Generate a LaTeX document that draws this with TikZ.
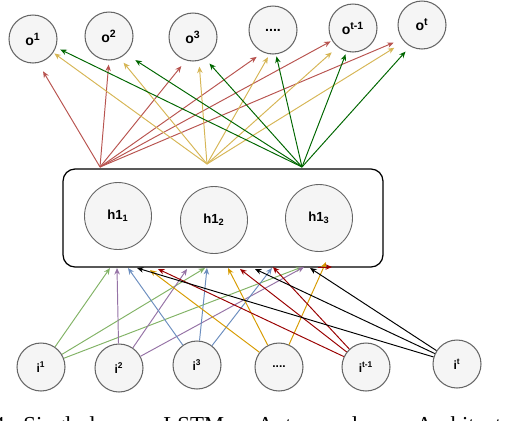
\documentclass[tikz,border=0pt]{standalone}
\usepackage{fontspec}
\setmainfont{Liberation Serif}
\newfontfamily\labelfont{Liberation Sans}
\usetikzlibrary{arrows.meta,calc}
\definecolor{cRed}{HTML}{B85450}
\definecolor{cYel}{HTML}{D6B656}
\definecolor{cDGreen}{HTML}{006600}
\definecolor{cGreen}{HTML}{82B366}
\definecolor{cPink}{HTML}{9673A6}
\definecolor{cBlue}{HTML}{6C8EBF}
\definecolor{cOrange}{HTML}{D79B00}
\definecolor{cMaroon}{HTML}{990000}
\definecolor{cFill}{HTML}{F5F5F5}
\definecolor{cGray}{HTML}{666666}
\begin{document}
\begin{tikzpicture}[x=0.02cm,y=-0.02cm,
  osm/.style={circle,draw=cGray,fill=cFill,line width=0.6pt,minimum size=0.96cm,inner sep=0pt,
    font=\labelfont\bfseries\fontsize{8}{9}\selectfont},
  ism/.style={circle,draw=cGray,fill=cFill,line width=0.6pt,minimum size=0.96cm,inner sep=0pt,
    font=\labelfont\bfseries\fontsize{6.8}{8}\selectfont},
  hsm/.style={circle,draw=cGray,fill=cFill,line width=0.5pt,minimum size=1.34cm,inner sep=0pt,
    font=\labelfont\bfseries\fontsize{7.5}{9}\selectfont},
  layerbox/.style={draw=black,fill=white,line width=0.7pt,rounded corners=0.24cm,
    minimum width=6.4cm,minimum height=1.96cm,inner sep=0pt},
  arr/.style={line width=0.55pt,-{Stealth[length=1.3mm,width=1.1mm]}},
  captext/.style={anchor=base west,inner sep=0pt,font=\fontsize{13}{15}\selectfont}
]
\useasboundingbox (0,0) rectangle (506,420);

% layer box
\node[layerbox] (layer) at (223,218) {};
\node[hsm] (h1) at (118,216) {h1\textsubscript{1}};
\node[hsm] (h2) at (214,220) {h1\textsubscript{2}};
\node[hsm] (h3) at (319,218) {h1\textsubscript{3}};

% output nodes
\node[osm] (o1)  at (33,39)  {o\textsuperscript{1}};
\node[osm] (o2)  at (109,36) {o\textsuperscript{2}};
\node[osm] (o3)  at (193,37) {o\textsuperscript{3}};
\node[osm] (od)  at (273,30) {....};
\node[osm] (otm) at (353,28) {o\textsuperscript{t-1}};
\node[osm] (ot)  at (422,25) {o\textsuperscript{t}};

% input nodes
\node[ism] (i1)  at (41,367)  {i\textsuperscript{1}};
\node[ism] (i2)  at (119,368) {i\textsuperscript{2}};
\node[ism] (i3)  at (197,365) {i\textsuperscript{3}};
\node[ism] (id)  at (279,367) {....};
\node[ism] (itm) at (366,367) {i\textsuperscript{t-1}};
\node[ism] (it)  at (457,364) {i\textsuperscript{t}};

% sources on the top of the layer box
\coordinate (rs) at (100,167);
\coordinate (ys) at (207,164);
\coordinate (gs) at (302,167);

% red
\draw[arr,cRed,shorten >=5.5pt] (rs) -- (o1.282);
\draw[arr,cRed,shorten >=2.3pt] (rs) -- (o2.270);
\draw[arr,cRed,shorten >=4.1pt] (rs) -- (o3.253);
\draw[arr,cRed,shorten >=4.4pt] (rs) -- (od.246);
\draw[arr,cRed,shorten >=0.9pt] (rs) -- (otm.211);
\draw[arr,cRed,shorten >=5.1pt] (rs) -- (ot.215);
% yellow
\draw[arr,cYel,shorten >=0.7pt] (ys) -- (o1.326);
\draw[arr,cYel,shorten >=3.4pt] (ys) -- (o2.296);
\draw[arr,cYel,shorten >=3.3pt] (ys) -- (o3.284);
\draw[arr,cYel,shorten >=1.9pt] (ys) -- (od.262);
\draw[arr,cYel,shorten >=4.5pt] (ys) -- (otm.231);
\draw[arr,cYel,shorten >=6.5pt] (ys) -- (ot.223);
% dark green
\draw[arr,cDGreen,shorten >=2.7pt] (gs) -- (o1.340);
\draw[arr,cDGreen,shorten >=6.5pt] (gs) -- (o2.313);
\draw[arr,cDGreen,shorten >=3.9pt] (gs) -- (o3.299);
\draw[arr,cDGreen,shorten >=1.2pt] (gs) -- (od.277);
\draw[arr,cDGreen,shorten >=1.6pt] (gs) -- (otm.255);
\draw[arr,cDGreen,shorten >=3.9pt] (gs) -- (ot.241);

% targets on the bottom of the layer box
\coordinate (g1) at (110,268); \coordinate (g2) at (205,268); \coordinate (g3) at (302,267);
\coordinate (p1) at (117,268); \coordinate (p2) at (187,269); \coordinate (p3) at (304,267);
\coordinate (b1) at (128,268); \coordinate (b2) at (207,268); \coordinate (b3) at (272,268);
\coordinate (y1) at (150,270); \coordinate (y2) at (228,268); \coordinate (y3) at (326,262);
\coordinate (m1) at (158,269); \coordinate (m2) at (240,269); \coordinate (m3) at (273,267);
\coordinate (k1) at (137,268); \coordinate (k2) at (255,269); \coordinate (k3) at (310,268);
\coordinate (mz) at (318,267); \coordinate (mtip) at (332,267);

\draw[arr,cGreen] (i1) -- (g1);
\draw[arr,cGreen] (i1) -- (g2);
\draw[arr,cGreen] (i1) -- (g3);
\draw[arr,cPink] (i2) -- (p1);
\draw[arr,cPink] (i2) -- (p2);
\draw[arr,cPink] (i2) -- (p3);
\draw[arr,cBlue] (i3) -- (b1);
\draw[arr,cBlue] (i3) -- (b2);
\draw[arr,cBlue] (i3) -- (b3);
\draw[arr,cOrange] (id) -- (y1);
\draw[arr,cOrange] (id) -- (y2);
\draw[arr,cOrange] (id) -- (y3);
\draw[arr,cMaroon] (itm) -- (m1);
\draw[arr,cMaroon] (itm) -- (m2);
\draw[arr,cMaroon] (itm) -- (m3);
\draw[arr,black] (it) -- (k1);
\draw[arr,black] (it) -- (k2);
\draw[arr,black] (it) -- (k3);
\draw[arr,cMaroon] (mz) -- (mtip);

% caption (cut off by the picture's lower edge, as in the reference)
\node[captext] (c0) at (-7,432) {4:};
\node[captext] (c1) at (23,432) {Single-layer};
\node[captext] (c2) at (163,432) {LSTM};
\node[captext] (c3) at (257,432) {Autoencoder};
\node[captext] (c4) at (416,432) {Architecture};
\end{tikzpicture}
\end{document}
